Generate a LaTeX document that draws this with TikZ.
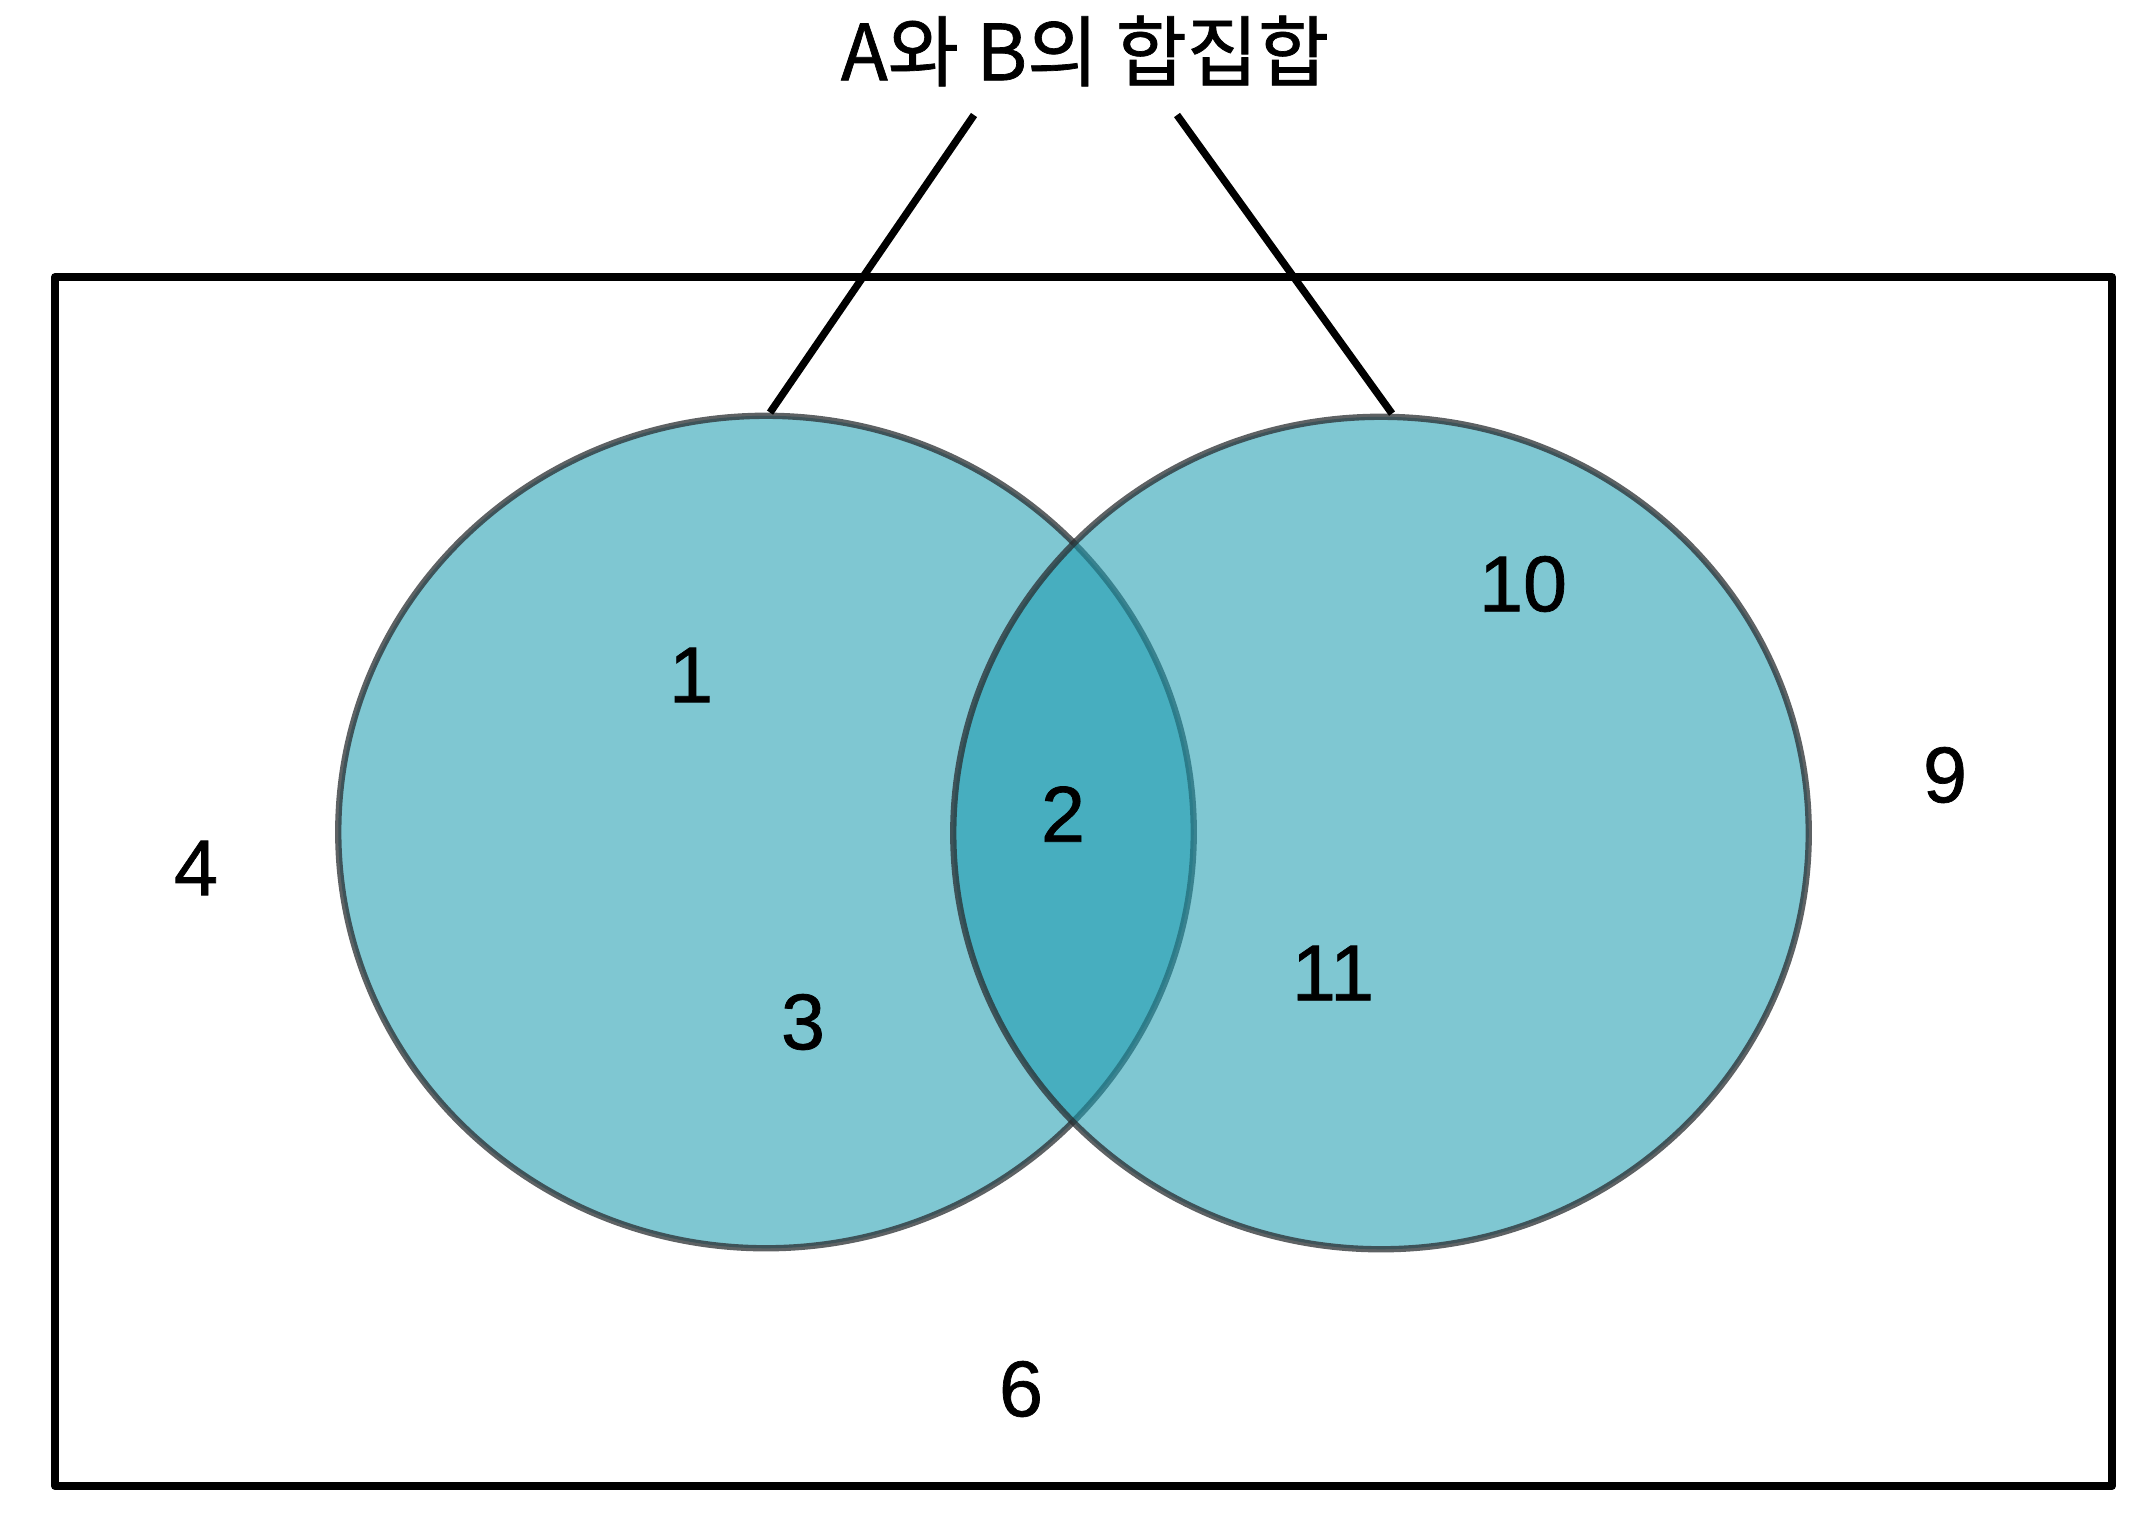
\documentclass[tikz,border=0pt]{standalone}
\usepackage{fontspec}
\setmainfont{Liberation Sans}[BoldFont=Liberation Sans, BoldFeatures={FakeBold=0.9}]
\newfontfamily\krfont{Noto Sans CJK KR}[BoldFont=Noto Sans CJK KR, BoldFeatures={FakeBold=0.9}]
\usepackage{tikz}
\usetikzlibrary{shapes.geometric}
\definecolor{setteal}{RGB}{30,156,176}
\definecolor{setrim}{RGB}{40,45,48}
\tikzset{
  setdisk/.style={ellipse, inner sep=0pt, minimum width=8.55cm, minimum height=8.32cm,
    fill=setteal, fill opacity=0.57, draw=setrim, draw opacity=0.75, line width=1.8pt},
  elem/.style={font=\fontsize{22.5}{26}\selectfont\bfseries, inner sep=0pt}
}
\begin{document}
\begin{tikzpicture}[x=0.01cm, y=-0.01cm]
\useasboundingbox (0,0) rectangle (2146,1526);
\draw[line width=2.2pt, line join=round] (55,277) rectangle (2112,1486);
\node[setdisk] (setA) at (766,832) {};
\node[setdisk] (setB) at (1381,833) {};
\node[font=\krfont\fontsize{22}{26}\selectfont\bfseries] (title) at (1085,51) {A와 B의 합집합};
\coordinate (tl) at (974,115);
\coordinate (tr) at (1177,115);
\draw[line width=2.1pt] (tl) -- ([xshift=0.04cm]setA.north);
\draw[line width=2.1pt] (tr) -- ([xshift=0.11cm]setB.north);
% elements
\node[elem] (e1) at (691,675) {1};
\node[elem] (e2) at (1063,814) {2};
\node[elem] (e3) at (803,1022) {3};
\node[elem] (e4) at (196,868) {4};
\node[elem] (e6) at (1021,1389) {6};
\node[elem] (e9) at (1945,775) {9};
\node[elem] (e10) at (1523,584) {10};
\node[elem] (e11) at (1333,973) {11};
\end{tikzpicture}
\end{document}
